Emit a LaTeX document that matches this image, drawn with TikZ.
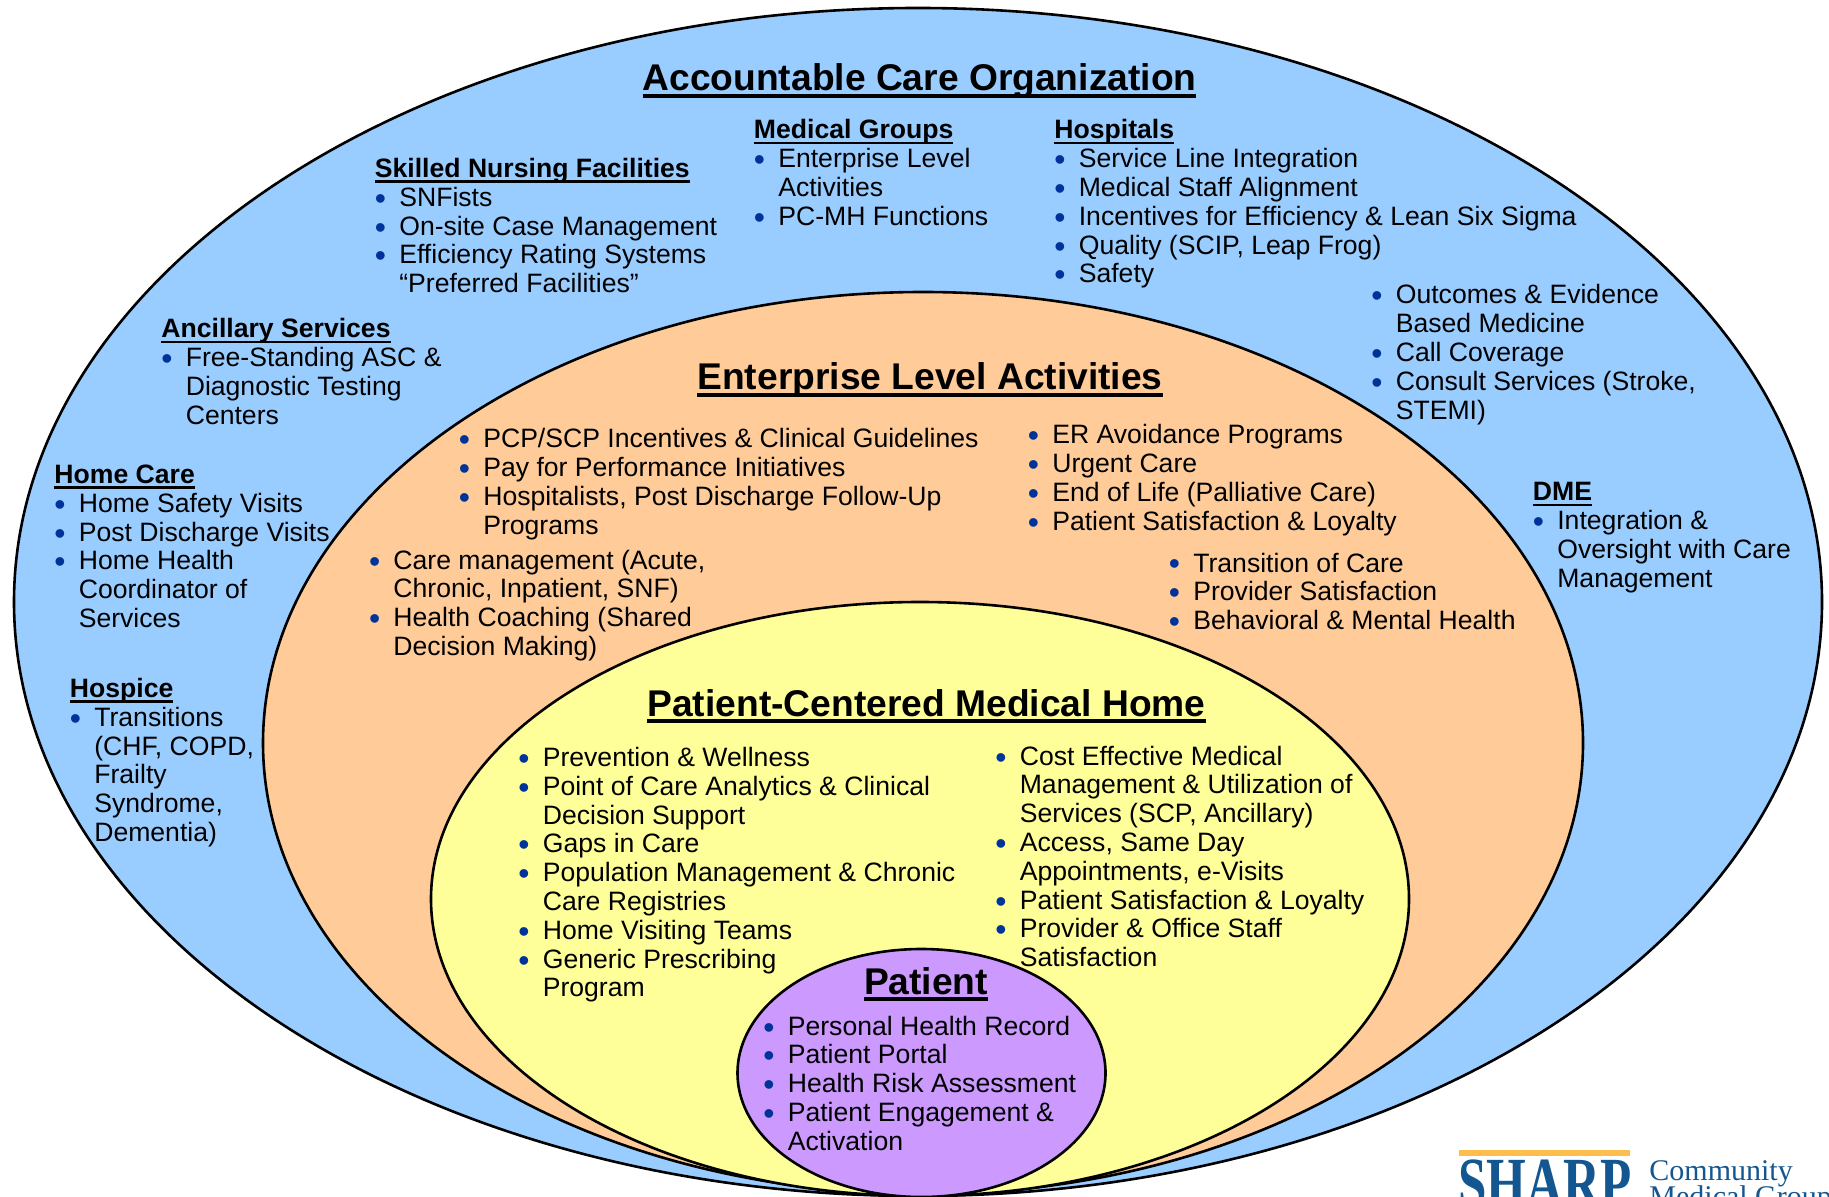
\documentclass[tikz,border=0pt]{standalone}
\usepackage{fontspec}
\setmainfont{Liberation Sans}
\newfontfamily\logofont{Liberation Serif}
\definecolor{acoblue}{HTML}{99CCFF}
\definecolor{elaorange}{HTML}{FFCC99}
\definecolor{pcmhyellow}{HTML}{FFFF99}
\definecolor{patpurple}{HTML}{CC99FF}
\definecolor{dotblue}{HTML}{003399}
\definecolor{sharpblue}{HTML}{14568F}
\definecolor{sharpgold}{HTML}{FDBE4E}
\newsavebox{\ulsave}
\newcommand{\ulhead}[3]{\sbox{\ulsave}{#3}\rlap{\usebox{\ulsave}}\rule[-#1]{\wd\ulsave}{#2}}
\newcommand{\itm}{\raisebox{-1.5pt}{\scalebox{1.2}{\textcolor{dotblue}{\textbullet}}}}
\newcommand{\hd}[1]{\multicolumn{2}{@{}l@{}}{\ulhead{2.6pt}{1.3pt}{\textbf{#1}}}\\}
\newcommand{\bigul}[1]{\ulhead{3.4pt}{1.7pt}{#1}}
\newenvironment{lst}{\begin{tabular}[t]{@{}p{12.2pt}@{}l@{}}}{\end{tabular}}
\tikzset{
  ring/.style={draw=black,line width=1.3pt},
  lstbox/.style={anchor=base west,inner sep=0pt,font=\fontsize{13.3}{14.4}\selectfont},
  maintitle/.style={anchor=base,inner sep=0pt,font=\fontsize{18.6}{20}\selectfont\bfseries}
}
\begin{document}
\begin{tikzpicture}[x=0.5pt,y=-0.5pt]
  \useasboundingbox (0,0) rectangle (1829,1197);
  \draw[ring,fill=acoblue] (918,602) ellipse (904 and 594);
  \draw[ring,fill=elaorange] (923,743) ellipse (660 and 451);
  \draw[ring,fill=pcmhyellow] (920,899) ellipse (489 and 297);
  \draw[ring,fill=patpurple] (921.5,1073) ellipse (184 and 124);
  % titles
  \node[maintitle] (acotitle) at (919.5,91) {\bigul{Accountable Care Organization}};
  \node[maintitle] (elatitle) at (930,390) {\bigul{Enterprise Level Activities}};
  \node[maintitle] (pcmhtitle) at (926.5,716) {\bigul{Patient-Centered Medical Home}};
  \node[maintitle] (pattitle) at (926,994) {\bigul{Patient}};
  % outer ring
  \node[lstbox] (snf) at (374.5,177.5) {\begin{lst}
    \hd{Skilled Nursing Facilities}
    \itm & SNFists\\
    \itm & On-site Case Management\\
    \itm & Efficiency Rating Systems\\
    & “Preferred Facilities”
  \end{lst}};
  \node[lstbox] (medgroups) at (753.5,139) {\begin{lst}
    \hd{Medical Groups}
    \itm & Enterprise Level\\
    & Activities\\
    \itm & PC-MH Functions
  \end{lst}};
  \node[lstbox] (hospitals) at (1054,139) {\begin{lst}
    \hd{Hospitals}
    \itm & Service Line Integration\\
    \itm & Medical Staff Alignment\\
    \itm & Incentives for Efficiency \& Lean Six Sigma\\
    \itm & Quality (SCIP, Leap Frog)\\
    \itm & Safety
  \end{lst}};
  \node[lstbox] (hospmore) at (1371,304) {\begin{lst}
    \itm & Outcomes \& Evidence\\
    & Based Medicine\\
    \itm & Call Coverage\\
    \itm & Consult Services (Stroke,\\
    & STEMI)
  \end{lst}};
  \node[lstbox] (ancillary) at (161,338) {\begin{lst}
    \hd{Ancillary Services}
    \itm & Free-Standing ASC \&\\
    & Diagnostic Testing\\
    & Centers
  \end{lst}};
  \node[lstbox] (homecare) at (54,483.5) {\begin{lst}
    \hd{Home Care}
    \itm & Home Safety Visits\\
    \itm & Post Discharge Visits\\
    \itm & Home Health\\
    & Coordinator of\\
    & Services
  \end{lst}};
  \node[lstbox] (hospice) at (69.5,697.5) {\begin{lst}
    \hd{Hospice}
    \itm & Transitions\\
    & (CHF, COPD,\\
    & Frailty\\
    & Syndrome,\\
    & Dementia)
  \end{lst}};
  \node[lstbox] (dme) at (1532.5,501) {\begin{lst}
    \hd{DME}
    \itm & Integration \&\\
    & Oversight with Care\\
    & Management
  \end{lst}};
  % enterprise ring
  \node[lstbox] (pcp) at (458.5,448) {\begin{lst}
    \itm & PCP/SCP Incentives \& Clinical Guidelines\\
    \itm & Pay for Performance Initiatives\\
    \itm & Hospitalists, Post Discharge Follow-Up\\
    & Programs
  \end{lst}};
  \node[lstbox] (caremgmt) at (368.6,569) {\begin{lst}
    \itm & Care management (Acute,\\
    & Chronic, Inpatient, SNF)\\
    \itm & Health Coaching (Shared\\
    & Decision Making)
  \end{lst}};
  \node[lstbox] (eravoid) at (1027.5,444) {\begin{lst}
    \itm & ER Avoidance Programs\\
    \itm & Urgent Care\\
    \itm & End of Life (Palliative Care)\\
    \itm & Patient Satisfaction \& Loyalty
  \end{lst}};
  \node[lstbox] (transition) at (1168.5,572) {\begin{lst}
    \itm & Transition of Care\\
    \itm & Provider Satisfaction\\
    \itm & Behavioral \& Mental Health
  \end{lst}};
  % medical home ring
  \node[lstbox] (pcmhleft) at (518,766.5) {\begin{lst}
    \itm & Prevention \& Wellness\\
    \itm & Point of Care Analytics \& Clinical\\
    & Decision Support\\
    \itm & Gaps in Care\\
    \itm & Population Management \& Chronic\\
    & Care Registries\\
    \itm & Home Visiting Teams\\
    \itm & Generic Prescribing\\
    & Program
  \end{lst}};
  \node[lstbox] (pcmhright) at (995,765) {\begin{lst}
    \itm & Cost Effective Medical\\
    & Management \& Utilization of\\
    & Services (SCP, Ancillary)\\
    \itm & Access, Same Day\\
    & Appointments, e-Visits\\
    \itm & Patient Satisfaction \& Loyalty\\
    \itm & Provider \& Office Staff\\
    & Satisfaction
  \end{lst}};
  % patient
  \node[lstbox] (patlist) at (763,1035) {\begin{lst}
    \itm & Personal Health Record\\
    \itm & Patient Portal\\
    \itm & Health Risk Assessment\\
    \itm & Patient Engagement \&\\
    & Activation
  \end{lst}};
  % logo, cut off by the page edge
  \begin{scope}
    \clip (0,0) rectangle (1829,1197);
    \fill[sharpgold] (1459,1150) rectangle (1630,1156);
    \node[anchor=base west,inner sep=0pt,text=sharpblue,xscale=0.71,transform shape,font=\logofont\bfseries\fontsize{36}{36}\selectfont] (sharpword) at (1458,1207) {SHARP};
    \node[anchor=base west,inner sep=0pt,text=sharpblue,font=\logofont\fontsize{15}{15}\selectfont] (cmgone) at (1649,1180) {Community};
    \node[anchor=base west,inner sep=0pt,text=sharpblue,font=\logofont\fontsize{15}{15}\selectfont] (cmgtwo) at (1649,1206) {Medical Group};
  \end{scope}
\end{tikzpicture}
\end{document}
